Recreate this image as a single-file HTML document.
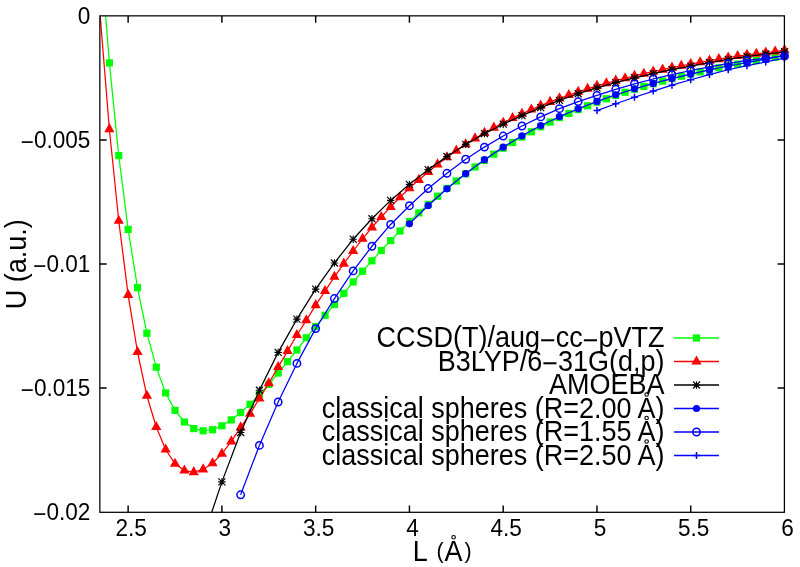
<!DOCTYPE html>
<html><head><meta charset="utf-8"><style>
html,body{margin:0;padding:0;background:#fff;width:800px;height:567px;overflow:hidden}
svg{display:block;will-change:transform}
</style></head><body>
<svg width="800" height="567" viewBox="0 0 800 567">
<defs><clipPath id="cp"><rect x="100" y="16" width="684.5" height="496"/></clipPath></defs>
<rect width="800" height="567" fill="#fff"/>
<g font-family="Liberation Sans, sans-serif" font-size="22.6" fill="#000">
<text transform="translate(90.4,23.85) scale(1,1.06)" text-anchor="end">0</text><text transform="translate(90.4,147.96) scale(1,1.06)" text-anchor="end"><tspan dy="2.0">−</tspan><tspan dy="-2.0">0.005</tspan></text><text transform="translate(90.4,272.07) scale(1,1.06)" text-anchor="end"><tspan dy="2.0">−</tspan><tspan dy="-2.0">0.01</tspan></text><text transform="translate(90.4,396.18) scale(1,1.06)" text-anchor="end"><tspan dy="2.0">−</tspan><tspan dy="-2.0">0.015</tspan></text><text transform="translate(90.4,520.29) scale(1,1.06)" text-anchor="end"><tspan dy="2.0">−</tspan><tspan dy="-2.0">0.02</tspan></text>
<text transform="translate(131.13,535.9) scale(1,1.06)" text-anchor="middle">2.5</text><text transform="translate(224.90,535.9) scale(1,1.06)" text-anchor="middle">3</text><text transform="translate(318.66,535.9) scale(1,1.06)" text-anchor="middle">3.5</text><text transform="translate(412.43,535.9) scale(1,1.06)" text-anchor="middle">4</text><text transform="translate(506.20,535.9) scale(1,1.06)" text-anchor="middle">4.5</text><text transform="translate(599.97,535.9) scale(1,1.06)" text-anchor="middle">5</text><text transform="translate(693.73,535.9) scale(1,1.06)" text-anchor="middle">5.5</text><text transform="translate(787.50,535.9) scale(1,1.06)" text-anchor="middle">6</text>
</g>
<g font-family="Liberation Sans, sans-serif" font-size="27" fill="#000">
<text transform="translate(412.8,560.5) scale(1,1.06)">L</text>
<text transform="translate(444.6,560.5) scale(1,1.06)">A</text>
<text transform="translate(436.4,557.6) scale(1,1.06)" font-size="21.5">(</text>
<text transform="translate(464.5,557.6) scale(1,1.06)" font-size="21.5">)</text>
<text transform="translate(25.6,264.2) rotate(-90) scale(1,1.06)" text-anchor="middle">U (a.u.)</text>
<text transform="translate(664.5,347.30) scale(1,1.06)" text-anchor="end">CCSD(T)/aug<tspan dy="2.5">−</tspan><tspan dy="-2.5">cc</tspan><tspan dy="2.5">−</tspan><tspan dy="-2.5">pVTZ</tspan></text><text transform="translate(664.5,370.80) scale(1,1.06)" text-anchor="end">B3LYP/6<tspan dy="2.5">−</tspan><tspan dy="-2.5">31G(d,p)</tspan></text><text transform="translate(664.5,394.30) scale(1,1.06)" text-anchor="end">AMOEBA</text><text transform="translate(664.5,417.80) scale(1,1.06)" text-anchor="end">classical spheres (R=2.00 A)</text><text transform="translate(664.5,441.30) scale(1,1.06)" text-anchor="end">classical spheres (R=1.55 A)</text><text transform="translate(664.5,464.80) scale(1,1.06)" text-anchor="end">classical spheres (R=2.50 A)</text>
</g>
<path d="M674,338.0H719" stroke="#00ff00" stroke-width="1.3"/><rect x="692.90" y="334.40" width="7.20" height="7.20" fill="#00ff00"/><path d="M674,361.5H719" stroke="#ff0000" stroke-width="1.3"/><path d="M696.50,355.40L701.60,364.50L691.40,364.50Z" fill="#ff0000"/><path d="M674,385.0H719" stroke="#000000" stroke-width="1.3"/><path d="M692.80,385.00H700.20M696.50,381.30V388.70M692.99,381.49L700.01,388.51M692.99,388.51L700.01,381.49" stroke="#000000" stroke-width="1.15" fill="none"/><path d="M674,408.5H719" stroke="#0000ff" stroke-width="1.3"/><circle cx="696.50" cy="408.50" r="3.6" fill="#0000ff"/><path d="M674,432.0H719" stroke="#0000ff" stroke-width="1.3"/><circle cx="696.50" cy="432.00" r="3.7" fill="none" stroke="#0000ff" stroke-width="1.5"/><path d="M674,455.5H719" stroke="#0000ff" stroke-width="1.3"/><path d="M693.00,455.50H700.00M696.50,452.00V459.00" stroke="#0000ff" stroke-width="1.5" fill="none"/>
<circle cx="453.60" cy="537.20" r="1.75" fill="none" stroke="#000" stroke-width="1.15"/><circle cx="646.60" cy="394.50" r="1.75" fill="none" stroke="#000" stroke-width="1.15"/><circle cx="646.60" cy="418.00" r="1.75" fill="none" stroke="#000" stroke-width="1.15"/><circle cx="646.60" cy="441.50" r="1.75" fill="none" stroke="#000" stroke-width="1.15"/>
<g clip-path="url(#cp)"><polyline points="100.0,-56.0 109.38,62.9 118.75,155.6 128.13,229.4 137.51,287.7 146.88,333.2 156.26,367.2 165.64,392.9 175.01,410.4 184.39,422.0 193.77,428.6 203.14,430.8 212.52,429.7 221.9,425.8 231.27,419.9 240.65,412.6 250.03,404.3 259.4,394.6 268.78,384.4 278.16,373.0 287.53,361.6 296.91,350.0 306.29,337.8 315.66,326.5 325.04,315.3 334.42,304.5 343.79,293.3 353.17,282.0 362.55,271.2 371.92,260.8 381.3,250.5 390.68,240.6 400.05,231.0 409.43,221.63 418.81,212.82 428.18,204.37 437.56,196.25 446.94,188.46 456.31,180.99 465.69,173.84 475.07,166.98 484.44,160.43 493.82,154.16 503.2,148.17 512.57,142.45 521.95,136.99 531.33,131.78 540.7,126.81 550.08,122.08 559.46,117.58 568.83,113.44 578.21,109.51 587.59,105.79 596.97,102.25 606.34,98.75 615.72,95.42 625.1,92.26 634.47,89.25 643.85,86.39 653.23,83.68 662.6,81.09 671.98,78.63 681.36,76.28 690.73,74.04 700.11,71.89 709.49,69.83 718.86,67.85 728.24,65.94 737.62,64.09 746.99,62.3 756.37,60.55 765.75,58.84 775.12,57.15 784.5,55.49" fill="none" stroke="#00ff00" stroke-width="1.25" stroke-linejoin="round"/></g><rect x="105.78" y="59.30" width="7.20" height="7.20" fill="#00ff00"/><rect x="115.15" y="152.00" width="7.20" height="7.20" fill="#00ff00"/><rect x="124.53" y="225.80" width="7.20" height="7.20" fill="#00ff00"/><rect x="133.91" y="284.10" width="7.20" height="7.20" fill="#00ff00"/><rect x="143.28" y="329.60" width="7.20" height="7.20" fill="#00ff00"/><rect x="152.66" y="363.60" width="7.20" height="7.20" fill="#00ff00"/><rect x="162.04" y="389.30" width="7.20" height="7.20" fill="#00ff00"/><rect x="171.41" y="406.80" width="7.20" height="7.20" fill="#00ff00"/><rect x="180.79" y="418.40" width="7.20" height="7.20" fill="#00ff00"/><rect x="190.17" y="425.00" width="7.20" height="7.20" fill="#00ff00"/><rect x="199.54" y="427.20" width="7.20" height="7.20" fill="#00ff00"/><rect x="208.92" y="426.10" width="7.20" height="7.20" fill="#00ff00"/><rect x="218.30" y="422.20" width="7.20" height="7.20" fill="#00ff00"/><rect x="227.67" y="416.30" width="7.20" height="7.20" fill="#00ff00"/><rect x="237.05" y="409.00" width="7.20" height="7.20" fill="#00ff00"/><rect x="246.43" y="400.70" width="7.20" height="7.20" fill="#00ff00"/><rect x="255.80" y="391.00" width="7.20" height="7.20" fill="#00ff00"/><rect x="265.18" y="380.80" width="7.20" height="7.20" fill="#00ff00"/><rect x="274.56" y="369.40" width="7.20" height="7.20" fill="#00ff00"/><rect x="283.93" y="358.00" width="7.20" height="7.20" fill="#00ff00"/><rect x="293.31" y="346.40" width="7.20" height="7.20" fill="#00ff00"/><rect x="302.69" y="334.20" width="7.20" height="7.20" fill="#00ff00"/><rect x="312.06" y="322.90" width="7.20" height="7.20" fill="#00ff00"/><rect x="321.44" y="311.70" width="7.20" height="7.20" fill="#00ff00"/><rect x="330.82" y="300.90" width="7.20" height="7.20" fill="#00ff00"/><rect x="340.19" y="289.70" width="7.20" height="7.20" fill="#00ff00"/><rect x="349.57" y="278.40" width="7.20" height="7.20" fill="#00ff00"/><rect x="358.95" y="267.60" width="7.20" height="7.20" fill="#00ff00"/><rect x="368.32" y="257.20" width="7.20" height="7.20" fill="#00ff00"/><rect x="377.70" y="246.90" width="7.20" height="7.20" fill="#00ff00"/><rect x="387.08" y="237.00" width="7.20" height="7.20" fill="#00ff00"/><rect x="396.45" y="227.40" width="7.20" height="7.20" fill="#00ff00"/><rect x="405.83" y="218.03" width="7.20" height="7.20" fill="#00ff00"/><rect x="415.21" y="209.22" width="7.20" height="7.20" fill="#00ff00"/><rect x="424.58" y="200.77" width="7.20" height="7.20" fill="#00ff00"/><rect x="433.96" y="192.65" width="7.20" height="7.20" fill="#00ff00"/><rect x="443.34" y="184.86" width="7.20" height="7.20" fill="#00ff00"/><rect x="452.71" y="177.39" width="7.20" height="7.20" fill="#00ff00"/><rect x="462.09" y="170.24" width="7.20" height="7.20" fill="#00ff00"/><rect x="471.47" y="163.38" width="7.20" height="7.20" fill="#00ff00"/><rect x="480.84" y="156.83" width="7.20" height="7.20" fill="#00ff00"/><rect x="490.22" y="150.56" width="7.20" height="7.20" fill="#00ff00"/><rect x="499.60" y="144.57" width="7.20" height="7.20" fill="#00ff00"/><rect x="508.97" y="138.85" width="7.20" height="7.20" fill="#00ff00"/><rect x="518.35" y="133.39" width="7.20" height="7.20" fill="#00ff00"/><rect x="527.73" y="128.18" width="7.20" height="7.20" fill="#00ff00"/><rect x="537.10" y="123.21" width="7.20" height="7.20" fill="#00ff00"/><rect x="546.48" y="118.48" width="7.20" height="7.20" fill="#00ff00"/><rect x="555.86" y="113.98" width="7.20" height="7.20" fill="#00ff00"/><rect x="565.23" y="109.84" width="7.20" height="7.20" fill="#00ff00"/><rect x="574.61" y="105.91" width="7.20" height="7.20" fill="#00ff00"/><rect x="583.99" y="102.19" width="7.20" height="7.20" fill="#00ff00"/><rect x="593.37" y="98.65" width="7.20" height="7.20" fill="#00ff00"/><rect x="602.74" y="95.15" width="7.20" height="7.20" fill="#00ff00"/><rect x="612.12" y="91.82" width="7.20" height="7.20" fill="#00ff00"/><rect x="621.50" y="88.66" width="7.20" height="7.20" fill="#00ff00"/><rect x="630.87" y="85.65" width="7.20" height="7.20" fill="#00ff00"/><rect x="640.25" y="82.79" width="7.20" height="7.20" fill="#00ff00"/><rect x="649.63" y="80.08" width="7.20" height="7.20" fill="#00ff00"/><rect x="659.00" y="77.49" width="7.20" height="7.20" fill="#00ff00"/><rect x="668.38" y="75.03" width="7.20" height="7.20" fill="#00ff00"/><rect x="677.76" y="72.68" width="7.20" height="7.20" fill="#00ff00"/><rect x="687.13" y="70.44" width="7.20" height="7.20" fill="#00ff00"/><rect x="696.51" y="68.29" width="7.20" height="7.20" fill="#00ff00"/><rect x="705.89" y="66.23" width="7.20" height="7.20" fill="#00ff00"/><rect x="715.26" y="64.25" width="7.20" height="7.20" fill="#00ff00"/><rect x="724.64" y="62.34" width="7.20" height="7.20" fill="#00ff00"/><rect x="734.02" y="60.49" width="7.20" height="7.20" fill="#00ff00"/><rect x="743.39" y="58.70" width="7.20" height="7.20" fill="#00ff00"/><rect x="752.77" y="56.95" width="7.20" height="7.20" fill="#00ff00"/><rect x="762.15" y="55.24" width="7.20" height="7.20" fill="#00ff00"/><rect x="771.52" y="53.55" width="7.20" height="7.20" fill="#00ff00"/><rect x="780.90" y="51.89" width="7.20" height="7.20" fill="#00ff00"/><g clip-path="url(#cp)"><polyline points="100.0,13.5 109.38,129.2 118.75,220.8 128.13,294.9 137.51,352.0 146.88,395.8 156.26,427.0 165.64,449.5 175.01,463.8 184.39,470.6 193.77,472.2 203.14,469.41 212.52,463.25 221.9,453.8 231.27,441.45 240.65,427.4 250.03,413.8 259.4,398.5 268.78,383.3 278.16,367.1 287.53,351.1 296.91,335.0 306.29,320.3 315.66,305.2 325.04,291.1 334.42,276.8 343.79,263.7 353.17,251.0 362.55,238.8 371.92,227.4 381.3,217.0 390.68,206.9 400.05,197.27 409.43,188.32 418.81,179.9 428.18,171.96 437.56,164.42 446.94,157.32 456.31,150.65 465.69,144.37 475.07,138.47 484.44,132.91 493.82,127.69 503.2,122.76 512.57,118.12 521.95,113.75 531.33,109.6 540.7,105.67 550.08,101.94 559.46,98.39 568.83,95.04 578.21,91.85 587.59,88.83 596.97,85.97 606.34,83.27 615.72,80.69 625.1,78.25 634.47,75.93 643.85,73.73 653.23,71.65 662.6,69.66 671.98,67.72 681.36,65.86 690.73,64.08 700.11,62.37 709.49,60.72 718.86,59.13 728.24,57.58 737.62,56.06 746.99,54.9 756.37,53.76 765.75,52.63 775.12,51.51 784.5,50.16" fill="none" stroke="#ff0000" stroke-width="1.25" stroke-linejoin="round"/></g><path d="M109.38,123.10L114.48,132.20L104.28,132.20Z" fill="#ff0000"/><path d="M118.75,214.70L123.85,223.80L113.65,223.80Z" fill="#ff0000"/><path d="M128.13,288.80L133.23,297.90L123.03,297.90Z" fill="#ff0000"/><path d="M137.51,345.90L142.61,355.00L132.41,355.00Z" fill="#ff0000"/><path d="M146.88,389.70L151.98,398.80L141.78,398.80Z" fill="#ff0000"/><path d="M156.26,420.90L161.36,430.00L151.16,430.00Z" fill="#ff0000"/><path d="M165.64,443.40L170.74,452.50L160.54,452.50Z" fill="#ff0000"/><path d="M175.01,457.70L180.11,466.80L169.91,466.80Z" fill="#ff0000"/><path d="M184.39,464.50L189.49,473.60L179.29,473.60Z" fill="#ff0000"/><path d="M193.77,466.10L198.87,475.20L188.67,475.20Z" fill="#ff0000"/><path d="M203.14,463.31L208.24,472.41L198.04,472.41Z" fill="#ff0000"/><path d="M212.52,457.15L217.62,466.25L207.42,466.25Z" fill="#ff0000"/><path d="M221.90,447.70L227.00,456.80L216.80,456.80Z" fill="#ff0000"/><path d="M231.27,435.35L236.37,444.45L226.17,444.45Z" fill="#ff0000"/><path d="M240.65,421.30L245.75,430.40L235.55,430.40Z" fill="#ff0000"/><path d="M250.03,407.70L255.13,416.80L244.93,416.80Z" fill="#ff0000"/><path d="M259.40,392.40L264.50,401.50L254.30,401.50Z" fill="#ff0000"/><path d="M268.78,377.20L273.88,386.30L263.68,386.30Z" fill="#ff0000"/><path d="M278.16,361.00L283.26,370.10L273.06,370.10Z" fill="#ff0000"/><path d="M287.53,345.00L292.63,354.10L282.43,354.10Z" fill="#ff0000"/><path d="M296.91,328.90L302.01,338.00L291.81,338.00Z" fill="#ff0000"/><path d="M306.29,314.20L311.39,323.30L301.19,323.30Z" fill="#ff0000"/><path d="M315.66,299.10L320.76,308.20L310.56,308.20Z" fill="#ff0000"/><path d="M325.04,285.00L330.14,294.10L319.94,294.10Z" fill="#ff0000"/><path d="M334.42,270.70L339.52,279.80L329.32,279.80Z" fill="#ff0000"/><path d="M343.79,257.60L348.89,266.70L338.69,266.70Z" fill="#ff0000"/><path d="M353.17,244.90L358.27,254.00L348.07,254.00Z" fill="#ff0000"/><path d="M362.55,232.70L367.65,241.80L357.45,241.80Z" fill="#ff0000"/><path d="M371.92,221.30L377.02,230.40L366.82,230.40Z" fill="#ff0000"/><path d="M381.30,210.90L386.40,220.00L376.20,220.00Z" fill="#ff0000"/><path d="M390.68,200.80L395.78,209.90L385.58,209.90Z" fill="#ff0000"/><path d="M400.05,191.17L405.15,200.27L394.95,200.27Z" fill="#ff0000"/><path d="M409.43,182.22L414.53,191.32L404.33,191.32Z" fill="#ff0000"/><path d="M418.81,173.80L423.91,182.90L413.71,182.90Z" fill="#ff0000"/><path d="M428.18,165.86L433.28,174.96L423.08,174.96Z" fill="#ff0000"/><path d="M437.56,158.32L442.66,167.42L432.46,167.42Z" fill="#ff0000"/><path d="M446.94,151.22L452.04,160.32L441.84,160.32Z" fill="#ff0000"/><path d="M456.31,144.55L461.41,153.65L451.21,153.65Z" fill="#ff0000"/><path d="M465.69,138.27L470.79,147.37L460.59,147.37Z" fill="#ff0000"/><path d="M475.07,132.37L480.17,141.47L469.97,141.47Z" fill="#ff0000"/><path d="M484.44,126.81L489.54,135.91L479.34,135.91Z" fill="#ff0000"/><path d="M493.82,121.59L498.92,130.69L488.72,130.69Z" fill="#ff0000"/><path d="M503.20,116.66L508.30,125.76L498.10,125.76Z" fill="#ff0000"/><path d="M512.57,112.02L517.67,121.12L507.47,121.12Z" fill="#ff0000"/><path d="M521.95,107.65L527.05,116.75L516.85,116.75Z" fill="#ff0000"/><path d="M531.33,103.50L536.43,112.60L526.23,112.60Z" fill="#ff0000"/><path d="M540.70,99.57L545.80,108.67L535.60,108.67Z" fill="#ff0000"/><path d="M550.08,95.84L555.18,104.94L544.98,104.94Z" fill="#ff0000"/><path d="M559.46,92.29L564.56,101.39L554.36,101.39Z" fill="#ff0000"/><path d="M568.83,88.94L573.93,98.04L563.73,98.04Z" fill="#ff0000"/><path d="M578.21,85.75L583.31,94.85L573.11,94.85Z" fill="#ff0000"/><path d="M587.59,82.73L592.69,91.83L582.49,91.83Z" fill="#ff0000"/><path d="M596.97,79.87L602.07,88.97L591.87,88.97Z" fill="#ff0000"/><path d="M606.34,77.17L611.44,86.27L601.24,86.27Z" fill="#ff0000"/><path d="M615.72,74.59L620.82,83.69L610.62,83.69Z" fill="#ff0000"/><path d="M625.10,72.15L630.20,81.25L620.00,81.25Z" fill="#ff0000"/><path d="M634.47,69.83L639.57,78.93L629.37,78.93Z" fill="#ff0000"/><path d="M643.85,67.63L648.95,76.73L638.75,76.73Z" fill="#ff0000"/><path d="M653.23,65.55L658.33,74.65L648.13,74.65Z" fill="#ff0000"/><path d="M662.60,63.56L667.70,72.66L657.50,72.66Z" fill="#ff0000"/><path d="M671.98,61.62L677.08,70.72L666.88,70.72Z" fill="#ff0000"/><path d="M681.36,59.76L686.46,68.86L676.26,68.86Z" fill="#ff0000"/><path d="M690.73,57.98L695.83,67.08L685.63,67.08Z" fill="#ff0000"/><path d="M700.11,56.27L705.21,65.37L695.01,65.37Z" fill="#ff0000"/><path d="M709.49,54.62L714.59,63.72L704.39,63.72Z" fill="#ff0000"/><path d="M718.86,53.03L723.96,62.13L713.76,62.13Z" fill="#ff0000"/><path d="M728.24,51.48L733.34,60.58L723.14,60.58Z" fill="#ff0000"/><path d="M737.62,49.96L742.72,59.06L732.52,59.06Z" fill="#ff0000"/><path d="M746.99,48.80L752.09,57.90L741.89,57.90Z" fill="#ff0000"/><path d="M756.37,47.66L761.47,56.76L751.27,56.76Z" fill="#ff0000"/><path d="M765.75,46.53L770.85,55.63L760.65,55.63Z" fill="#ff0000"/><path d="M775.12,45.41L780.22,54.51L770.02,54.51Z" fill="#ff0000"/><path d="M784.50,44.06L789.60,53.16L779.40,53.16Z" fill="#ff0000"/><g clip-path="url(#cp)"><polyline points="203.14,538.0 221.9,481.9 240.65,432.5 259.4,390.25 278.16,352.4 296.91,319.1 315.66,289.1 334.42,262.98 353.17,239.21 371.92,218.73 390.68,200.42 409.43,184.33 428.18,169.62 446.94,156.53 465.69,144.42 484.44,133.65 503.2,124.19 521.95,115.56 540.7,107.58 559.46,100.32 578.21,93.72 596.97,87.91 615.72,82.66 634.47,77.91 653.23,73.61 671.98,69.69 690.73,66.11 709.49,62.67 728.24,59.44 746.99,56.39 765.75,54.05 784.5,51.77" fill="none" stroke="#000000" stroke-width="1.25" stroke-linejoin="round"/></g><path d="M218.20,481.90H225.60M221.90,478.20V485.60M218.39,478.38L225.41,485.41M218.39,485.41L225.41,478.38" stroke="#000000" stroke-width="1.15" fill="none"/><path d="M236.95,432.50H244.35M240.65,428.80V436.20M237.14,428.99L244.16,436.01M237.14,436.01L244.16,428.99" stroke="#000000" stroke-width="1.15" fill="none"/><path d="M255.70,390.25H263.10M259.40,386.55V393.95M255.88,386.74L262.91,393.76M255.88,393.76L262.91,386.74" stroke="#000000" stroke-width="1.15" fill="none"/><path d="M274.46,352.40H281.86M278.16,348.70V356.10M274.65,348.88L281.68,355.91M274.65,355.91L281.68,348.88" stroke="#000000" stroke-width="1.15" fill="none"/><path d="M293.21,319.10H300.61M296.91,315.40V322.80M293.40,315.59L300.43,322.62M293.40,322.62L300.43,315.59" stroke="#000000" stroke-width="1.15" fill="none"/><path d="M311.96,289.10H319.36M315.66,285.40V292.80M312.15,285.59L319.18,292.62M312.15,292.62L319.18,285.59" stroke="#000000" stroke-width="1.15" fill="none"/><path d="M330.72,262.98H338.12M334.42,259.28V266.68M330.91,259.47L337.94,266.50M330.91,266.50L337.94,259.47" stroke="#000000" stroke-width="1.15" fill="none"/><path d="M349.47,239.21H356.87M353.17,235.51V242.91M349.66,235.70L356.69,242.72M349.66,242.72L356.69,235.70" stroke="#000000" stroke-width="1.15" fill="none"/><path d="M368.22,218.73H375.62M371.92,215.03V222.43M368.41,215.22L375.44,222.24M368.41,222.24L375.44,215.22" stroke="#000000" stroke-width="1.15" fill="none"/><path d="M386.98,200.42H394.38M390.68,196.72V204.12M387.17,196.91L394.19,203.93M387.17,203.93L394.19,196.91" stroke="#000000" stroke-width="1.15" fill="none"/><path d="M405.73,184.33H413.13M409.43,180.63V188.03M405.92,180.82L412.94,187.84M405.92,187.84L412.94,180.82" stroke="#000000" stroke-width="1.15" fill="none"/><path d="M424.48,169.62H431.88M428.18,165.92V173.32M424.67,166.11L431.69,173.13M424.67,173.13L431.69,166.11" stroke="#000000" stroke-width="1.15" fill="none"/><path d="M443.24,156.53H450.64M446.94,152.83V160.23M443.43,153.02L450.45,160.04M443.43,160.04L450.45,153.02" stroke="#000000" stroke-width="1.15" fill="none"/><path d="M461.99,144.42H469.39M465.69,140.72V148.12M462.18,140.91L469.20,147.93M462.18,147.93L469.20,140.91" stroke="#000000" stroke-width="1.15" fill="none"/><path d="M480.74,133.65H488.14M484.44,129.95V137.35M480.93,130.14L487.95,137.16M480.93,137.16L487.95,130.14" stroke="#000000" stroke-width="1.15" fill="none"/><path d="M499.50,124.19H506.90M503.20,120.49V127.89M499.69,120.67L506.71,127.70M499.69,127.70L506.71,120.67" stroke="#000000" stroke-width="1.15" fill="none"/><path d="M518.25,115.56H525.65M521.95,111.86V119.26M518.44,112.05L525.47,119.08M518.44,119.08L525.47,112.05" stroke="#000000" stroke-width="1.15" fill="none"/><path d="M537.00,107.58H544.40M540.70,103.88V111.28M537.19,104.06L544.22,111.09M537.19,111.09L544.22,104.06" stroke="#000000" stroke-width="1.15" fill="none"/><path d="M555.76,100.32H563.16M559.46,96.62V104.02M555.95,96.80L562.98,103.83M555.95,103.83L562.98,96.80" stroke="#000000" stroke-width="1.15" fill="none"/><path d="M574.51,93.72H581.91M578.21,90.02V97.42M574.70,90.20L581.73,97.23M574.70,97.23L581.73,90.20" stroke="#000000" stroke-width="1.15" fill="none"/><path d="M593.27,87.91H600.67M596.97,84.21V91.61M593.46,84.39L600.49,91.42M593.46,91.42L600.49,84.39" stroke="#000000" stroke-width="1.15" fill="none"/><path d="M612.02,82.66H619.42M615.72,78.96V86.36M612.21,79.14L619.24,86.17M612.21,86.17L619.24,79.14" stroke="#000000" stroke-width="1.15" fill="none"/><path d="M630.77,77.91H638.17M634.47,74.21V81.61M630.96,74.39L637.99,81.42M630.96,81.42L637.99,74.39" stroke="#000000" stroke-width="1.15" fill="none"/><path d="M649.53,73.61H656.93M653.23,69.91V77.31M649.72,70.09L656.75,77.12M649.72,77.12L656.75,70.09" stroke="#000000" stroke-width="1.15" fill="none"/><path d="M668.28,69.69H675.68M671.98,65.99V73.39M668.47,66.17L675.50,73.20M668.47,73.20L675.50,66.17" stroke="#000000" stroke-width="1.15" fill="none"/><path d="M687.03,66.11H694.43M690.73,62.41V69.81M687.22,62.59L694.25,69.62M687.22,69.62L694.25,62.59" stroke="#000000" stroke-width="1.15" fill="none"/><path d="M705.79,62.67H713.19M709.49,58.97V66.37M705.98,59.16L713.00,66.19M705.98,66.19L713.00,59.16" stroke="#000000" stroke-width="1.15" fill="none"/><path d="M724.54,59.44H731.94M728.24,55.74V63.14M724.73,55.92L731.75,62.95M724.73,62.95L731.75,55.92" stroke="#000000" stroke-width="1.15" fill="none"/><path d="M743.29,56.39H750.69M746.99,52.69V60.09M743.48,52.88L750.50,59.91M743.48,59.91L750.50,52.88" stroke="#000000" stroke-width="1.15" fill="none"/><path d="M762.05,54.05H769.45M765.75,50.35V57.75M762.24,50.53L769.26,57.56M762.24,57.56L769.26,50.53" stroke="#000000" stroke-width="1.15" fill="none"/><path d="M780.80,51.77H788.20M784.50,48.07V55.47M780.99,48.26L788.01,55.29M780.99,55.29L788.01,48.26" stroke="#000000" stroke-width="1.15" fill="none"/><g clip-path="url(#cp)"><polyline points="409.43,223.79 428.18,205.51 446.94,188.79 465.69,173.55 484.44,159.69 503.2,147.13 521.95,135.78 540.7,125.55 559.46,116.7 578.21,108.79 596.97,101.39 615.72,94.75 634.47,88.79 653.23,83.41 671.98,78.54 690.73,74.07 709.49,69.92 728.24,66.01 746.99,62.54 765.75,59.12 784.5,55.37" fill="none" stroke="#0000ff" stroke-width="1.25" stroke-linejoin="round"/></g><circle cx="409.43" cy="223.79" r="3.6" fill="#0000ff"/><circle cx="428.18" cy="205.51" r="3.6" fill="#0000ff"/><circle cx="446.94" cy="188.79" r="3.6" fill="#0000ff"/><circle cx="465.69" cy="173.55" r="3.6" fill="#0000ff"/><circle cx="484.44" cy="159.69" r="3.6" fill="#0000ff"/><circle cx="503.20" cy="147.13" r="3.6" fill="#0000ff"/><circle cx="521.95" cy="135.78" r="3.6" fill="#0000ff"/><circle cx="540.70" cy="125.55" r="3.6" fill="#0000ff"/><circle cx="559.46" cy="116.70" r="3.6" fill="#0000ff"/><circle cx="578.21" cy="108.79" r="3.6" fill="#0000ff"/><circle cx="596.97" cy="101.39" r="3.6" fill="#0000ff"/><circle cx="615.72" cy="94.75" r="3.6" fill="#0000ff"/><circle cx="634.47" cy="88.79" r="3.6" fill="#0000ff"/><circle cx="653.23" cy="83.41" r="3.6" fill="#0000ff"/><circle cx="671.98" cy="78.54" r="3.6" fill="#0000ff"/><circle cx="690.73" cy="74.07" r="3.6" fill="#0000ff"/><circle cx="709.49" cy="69.92" r="3.6" fill="#0000ff"/><circle cx="728.24" cy="66.01" r="3.6" fill="#0000ff"/><circle cx="746.99" cy="62.54" r="3.6" fill="#0000ff"/><circle cx="765.75" cy="59.12" r="3.6" fill="#0000ff"/><circle cx="784.50" cy="55.37" r="3.6" fill="#0000ff"/><g clip-path="url(#cp)"><polyline points="240.65,494.8 259.4,445.4 278.16,402.0 296.91,363.4 315.66,328.6 334.42,298.56 353.17,270.88 371.92,246.27 390.68,224.44 409.43,205.71 428.18,188.54 446.94,173.31 465.69,159.27 484.44,147.1 503.2,136.04 521.95,125.99 540.7,116.88 559.46,108.65 578.21,101.62 596.97,95.33 615.72,89.3 634.47,83.88 653.23,78.98 671.98,74.55 690.73,70.51 709.49,66.79 728.24,63.73 746.99,60.45 765.75,58.2 784.5,55.99" fill="none" stroke="#0000ff" stroke-width="1.25" stroke-linejoin="round"/></g><circle cx="240.65" cy="494.80" r="3.7" fill="none" stroke="#0000ff" stroke-width="1.5"/><circle cx="259.40" cy="445.40" r="3.7" fill="none" stroke="#0000ff" stroke-width="1.5"/><circle cx="278.16" cy="402.00" r="3.7" fill="none" stroke="#0000ff" stroke-width="1.5"/><circle cx="296.91" cy="363.40" r="3.7" fill="none" stroke="#0000ff" stroke-width="1.5"/><circle cx="315.66" cy="328.60" r="3.7" fill="none" stroke="#0000ff" stroke-width="1.5"/><circle cx="334.42" cy="298.56" r="3.7" fill="none" stroke="#0000ff" stroke-width="1.5"/><circle cx="353.17" cy="270.88" r="3.7" fill="none" stroke="#0000ff" stroke-width="1.5"/><circle cx="371.92" cy="246.27" r="3.7" fill="none" stroke="#0000ff" stroke-width="1.5"/><circle cx="390.68" cy="224.44" r="3.7" fill="none" stroke="#0000ff" stroke-width="1.5"/><circle cx="409.43" cy="205.71" r="3.7" fill="none" stroke="#0000ff" stroke-width="1.5"/><circle cx="428.18" cy="188.54" r="3.7" fill="none" stroke="#0000ff" stroke-width="1.5"/><circle cx="446.94" cy="173.31" r="3.7" fill="none" stroke="#0000ff" stroke-width="1.5"/><circle cx="465.69" cy="159.27" r="3.7" fill="none" stroke="#0000ff" stroke-width="1.5"/><circle cx="484.44" cy="147.10" r="3.7" fill="none" stroke="#0000ff" stroke-width="1.5"/><circle cx="503.20" cy="136.04" r="3.7" fill="none" stroke="#0000ff" stroke-width="1.5"/><circle cx="521.95" cy="125.99" r="3.7" fill="none" stroke="#0000ff" stroke-width="1.5"/><circle cx="540.70" cy="116.88" r="3.7" fill="none" stroke="#0000ff" stroke-width="1.5"/><circle cx="559.46" cy="108.65" r="3.7" fill="none" stroke="#0000ff" stroke-width="1.5"/><circle cx="578.21" cy="101.62" r="3.7" fill="none" stroke="#0000ff" stroke-width="1.5"/><circle cx="596.97" cy="95.33" r="3.7" fill="none" stroke="#0000ff" stroke-width="1.5"/><circle cx="615.72" cy="89.30" r="3.7" fill="none" stroke="#0000ff" stroke-width="1.5"/><circle cx="634.47" cy="83.88" r="3.7" fill="none" stroke="#0000ff" stroke-width="1.5"/><circle cx="653.23" cy="78.98" r="3.7" fill="none" stroke="#0000ff" stroke-width="1.5"/><circle cx="671.98" cy="74.55" r="3.7" fill="none" stroke="#0000ff" stroke-width="1.5"/><circle cx="690.73" cy="70.51" r="3.7" fill="none" stroke="#0000ff" stroke-width="1.5"/><circle cx="709.49" cy="66.79" r="3.7" fill="none" stroke="#0000ff" stroke-width="1.5"/><circle cx="728.24" cy="63.73" r="3.7" fill="none" stroke="#0000ff" stroke-width="1.5"/><circle cx="746.99" cy="60.45" r="3.7" fill="none" stroke="#0000ff" stroke-width="1.5"/><circle cx="765.75" cy="58.20" r="3.7" fill="none" stroke="#0000ff" stroke-width="1.5"/><circle cx="784.50" cy="55.99" r="3.7" fill="none" stroke="#0000ff" stroke-width="1.5"/><g clip-path="url(#cp)"><polyline points="596.97,110.61 615.72,103.75 634.47,97.24 653.23,91.06 671.98,85.22 690.73,79.73 709.49,74.57 728.24,69.75 746.99,65.68 765.75,61.94 784.5,58.15" fill="none" stroke="#0000ff" stroke-width="1.25" stroke-linejoin="round"/></g><path d="M593.47,110.61H600.47M596.97,107.11V114.11" stroke="#0000ff" stroke-width="1.5" fill="none"/><path d="M612.22,103.75H619.22M615.72,100.25V107.25" stroke="#0000ff" stroke-width="1.5" fill="none"/><path d="M630.97,97.24H637.97M634.47,93.74V100.74" stroke="#0000ff" stroke-width="1.5" fill="none"/><path d="M649.73,91.06H656.73M653.23,87.56V94.56" stroke="#0000ff" stroke-width="1.5" fill="none"/><path d="M668.48,85.22H675.48M671.98,81.72V88.72" stroke="#0000ff" stroke-width="1.5" fill="none"/><path d="M687.23,79.73H694.23M690.73,76.23V83.23" stroke="#0000ff" stroke-width="1.5" fill="none"/><path d="M705.99,74.57H712.99M709.49,71.07V78.07" stroke="#0000ff" stroke-width="1.5" fill="none"/><path d="M724.74,69.75H731.74M728.24,66.25V73.25" stroke="#0000ff" stroke-width="1.5" fill="none"/><path d="M743.49,65.68H750.49M746.99,62.18V69.18" stroke="#0000ff" stroke-width="1.5" fill="none"/><path d="M762.25,61.94H769.25M765.75,58.44V65.44" stroke="#0000ff" stroke-width="1.5" fill="none"/><path d="M781.00,58.15H788.00M784.50,54.65V61.65" stroke="#0000ff" stroke-width="1.5" fill="none"/>
<path d="M128.13,512.3v-6.8M128.13,15.85v6.8M221.90,512.3v-6.8M221.90,15.85v6.8M315.66,512.3v-6.8M315.66,15.85v6.8M409.43,512.3v-6.8M409.43,15.85v6.8M503.20,512.3v-6.8M503.20,15.85v6.8M596.97,512.3v-6.8M596.97,15.85v6.8M690.73,512.3v-6.8M690.73,15.85v6.8M99.85,140h6.8M784.4,140h-6.8M99.85,264h6.8M784.4,264h-6.8M99.85,388h6.8M784.4,388h-6.8" stroke="#000" stroke-width="1.45" fill="none"/>
<rect x="99.85" y="15.85" width="684.55" height="496.45" fill="none" stroke="#000" stroke-width="1.25"/>
</svg>
</body></html>
